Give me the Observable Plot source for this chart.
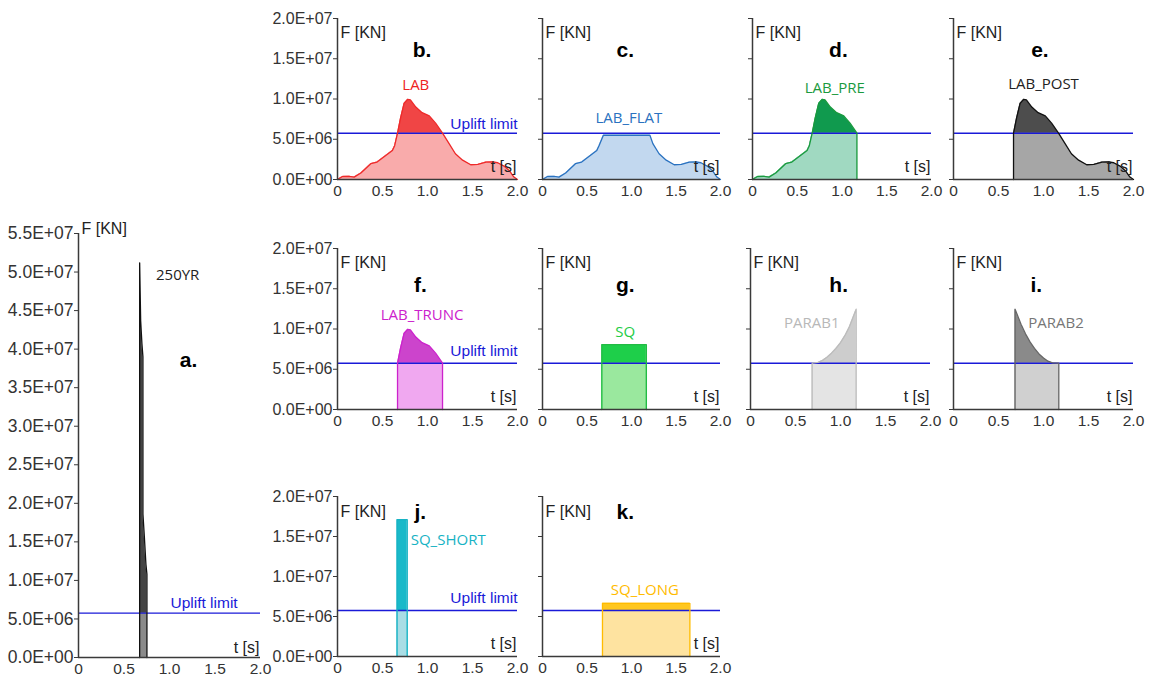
<!DOCTYPE html>
<html><head><meta charset="utf-8">
<script src="https://cdn.jsdelivr.net/npm/d3@7"></script>
<script src="https://cdn.jsdelivr.net/npm/@observablehq/plot@0.6"></script>
<style>
body{margin:0;background:#fff;}
#wrap{position:relative;width:1149px;height:679px;overflow:hidden;background:#fff;}
#wrap > div{position:absolute;}
svg{overflow:visible;}
</style></head><body><div id="wrap"></div>
<script>
// Values in E+06 kN (multiplied by UNIT when plotted), time in s
const UNIT = 1e6;
const UPLIFT = 5.75;
const xTicks = [0, 0.5, 1.0, 1.5, 2.0];
const xTickLabels = ["0", "0.5", "1.0", "1.5", "2.0"];
const yTicksSmall = [0, 5, 10, 15, 20];
const yTicksBig = [0, 5, 10, 15, 20, 25, 30, 35, 40, 45, 50, 55];

const yr250_t = [0.672, 0.672, 0.683, 0.697, 0.708, 0.708, 0.723, 0.741, 0.752, 0.752];
const yr250_v = [0, 51.2, 43.7, 40.7, 39.0, 18.6, 15.8, 12.1, 10.8, 0];

const lab_t = [0, 0.056, 0.13, 0.185, 0.26, 0.37, 0.44, 0.54, 0.61, 0.635, 0.667, 0.70, 0.74, 0.78, 0.81, 0.87, 0.94, 1.02, 1.09, 1.167, 1.24, 1.31, 1.39, 1.48, 1.56, 1.65, 1.72, 1.78, 1.85, 1.91, 1.96, 2.0];
const lab_v = [0, 0.37, 0.4, 0.3, 0.8, 1.96, 2.17, 3.0, 3.6, 4.2, 5.75, 7.6, 9.46, 9.96, 9.9, 9.0, 8.3, 7.9, 7.0, 5.75, 4.46, 3.2, 2.4, 1.83, 1.87, 2.17, 2.2, 2.08, 1.67, 1.1, 0.3, 0];

const flat_t = [0, 0.056, 0.13, 0.185, 0.26, 0.37, 0.44, 0.54, 0.61, 0.635, 0.684, 1.207, 1.24, 1.31, 1.39, 1.48, 1.56, 1.65, 1.72, 1.78, 1.85, 1.91, 1.96, 2.0];
const flat_v = [0, 0.37, 0.4, 0.3, 0.8, 1.96, 2.17, 3.0, 3.6, 4.2, 5.5, 5.5, 4.46, 3.2, 2.4, 1.83, 1.87, 2.17, 2.2, 2.08, 1.67, 1.1, 0.3, 0];

const pre_t = [0, 0.056, 0.13, 0.185, 0.26, 0.37, 0.44, 0.54, 0.61, 0.635, 0.667, 0.70, 0.74, 0.78, 0.81, 0.87, 0.94, 1.02, 1.09, 1.167, 1.167];
const pre_v = [0, 0.37, 0.4, 0.3, 0.8, 1.96, 2.17, 3.0, 3.6, 4.2, 5.75, 7.6, 9.46, 9.96, 9.9, 9.0, 8.3, 7.9, 7.0, 5.75, 0];

const post_t = [0.667, 0.667, 0.70, 0.74, 0.78, 0.81, 0.87, 0.94, 1.02, 1.09, 1.167, 1.24, 1.31, 1.39, 1.48, 1.56, 1.65, 1.72, 1.78, 1.85, 1.91, 1.96, 2.0];
const post_v = [0, 5.75, 7.6, 9.46, 9.96, 9.9, 9.0, 8.3, 7.9, 7.0, 5.75, 4.46, 3.2, 2.4, 1.83, 1.87, 2.17, 2.2, 2.08, 1.67, 1.1, 0.3, 0];

const trunc_t = [0.667, 0.667, 0.70, 0.74, 0.78, 0.81, 0.87, 0.94, 1.02, 1.09, 1.167, 1.167];
const trunc_v = [0, 5.75, 7.6, 9.46, 9.96, 9.9, 9.0, 8.3, 7.9, 7.0, 5.75, 0];

const sq_t = [0.667, 0.667, 1.167, 1.167];
const sq_v = [0, 8.05, 8.05, 0];

const parab1_t = [0.685, 0.685, 0.75, 0.8, 0.85, 0.9, 0.95, 1.0, 1.05, 1.1, 1.174, 1.174];
const parab1_v = [0, 5.75, 5.85, 6.1, 6.5, 7.0, 7.6, 8.3, 9.2, 10.3, 12.46, 0];

const parab2_t = [0.684, 0.684, 0.75, 0.8, 0.85, 0.9, 0.95, 1.0, 1.05, 1.1, 1.17, 1.17];
const parab2_v = [0, 12.46, 10.6, 9.4, 8.4, 7.6, 6.9, 6.4, 6.0, 5.8, 5.75, 0];

const short_t = [0.662, 0.662, 0.775, 0.775];
const short_v = [0, 17.1, 17.1, 0];

const long_t = [0.674, 0.674, 1.656, 1.656];
const long_v = [0, 6.65, 6.65, 0];

const panels = [
  {frame:[78,233,260,657], ymax:55, yTicks:yTicksBig, yLabels:true, yFont:17.5, t:yr250_t, v:yr250_v,
   stroke:"#111", upper:"#444", lower:"#8a8a8a", name:"250YR", nameColor:"#222", namePos:[1.09,49.6],
   letter:"a.", letterPos:[1.21,38.5], uplift:[1.38,7.1,"middle"], fTop:-11, tDy:-5},
  {frame:[337,18,517,179], ymax:20, yTicks:yTicksSmall, yLabels:true, yFont:16, t:lab_t, v:lab_v,
   stroke:"#ee2a2a", upper:"#f04545", lower:"#f9abab", name:"LAB", nameColor:"#ee2222", namePos:[0.87,11.7],
   letter:"b.", letterPos:[0.94,16.0], uplift:[2.0,6.95,"end"], fTop:8, tDy:-8},
  {frame:[542,18,720,179], ymax:20, yTicks:yTicksSmall, yLabels:false, t:flat_t, v:flat_v,
   stroke:"#2a72c0", upper:"#c2d8ef", lower:"#c2d8ef", name:"LAB_FLAT", nameColor:"#2a72c0", namePos:[0.97,7.6],
   letter:"c.", letterPos:[0.93,16.0], fTop:8, tDy:-8},
  {frame:[752,18,931,179], ymax:20, yTicks:yTicksSmall, yLabels:false, t:pre_t, v:pre_v,
   stroke:"#1a9a3e", upper:"#109a4e", lower:"#a0d9c1", name:"LAB_PRE", nameColor:"#1a9a3e", namePos:[0.92,11.4],
   letter:"d.", letterPos:[0.96,16.0], fTop:8, tDy:-8},
  {frame:[953,18,1133,179], ymax:20, yTicks:yTicksSmall, yLabels:false, t:post_t, v:post_v,
   stroke:"#111", upper:"#4d4d4d", lower:"#a6a6a6", name:"LAB_POST", nameColor:"#222", namePos:[1.0,11.9],
   letter:"e.", letterPos:[0.96,16.0], fTop:8, tDy:-8},
  {frame:[337,248,517,409], ymax:20, yTicks:yTicksSmall, yLabels:true, yFont:16, t:trunc_t, v:trunc_v,
   stroke:"#cc22cc", upper:"#cc44cc", lower:"#f0a8f0", name:"LAB_TRUNC", nameColor:"#cc22cc", namePos:[0.94,11.7],
   letter:"f.", letterPos:[0.92,15.4], uplift:[2.0,7.3,"end"], fTop:8, tDy:-8},
  {frame:[542,248,720,409], ymax:20, yTicks:yTicksSmall, yLabels:false, t:sq_t, v:sq_v,
   stroke:"#22bb44", upper:"#1ecf4a", lower:"#9ae89e", name:"SQ", nameColor:"#22cc44", namePos:[0.93,9.6],
   letter:"g.", letterPos:[0.93,15.4], fTop:8, tDy:-8},
  {frame:[750,248,930,409], ymax:20, yTicks:yTicksSmall, yLabels:false, t:parab1_t, v:parab1_v,
   stroke:"#bcbcbc", upper:"#cdcdcd", lower:"#e4e4e4", name:"PARAB1", nameColor:"#b8b8b8", namePos:[0.68,10.7],
   letter:"h.", letterPos:[0.98,15.4], fTop:8, tDy:-8},
  {frame:[953,248,1133,409], ymax:20, yTicks:yTicksSmall, yLabels:false, t:parab2_t, v:parab2_v,
   stroke:"#666", upper:"#8a8a8a", lower:"#d0d0d0", name:"PARAB2", nameColor:"#777", namePos:[1.14,10.7],
   letter:"i.", letterPos:[0.92,15.4], fTop:8, tDy:-8},
  {frame:[337,496,517,656], ymax:20, yTicks:yTicksSmall, yLabels:true, yFont:16, t:short_t, v:short_v,
   stroke:"#17b3c4", upper:"#1ab9c9", lower:"#a9dde5", name:"SQ_SHORT", nameColor:"#17b3c4", namePos:[1.23,14.5],
   letter:"j.", letterPos:[0.92,18.0], uplift:[2.0,7.25,"end"], fTop:9, tDy:-8},
  {frame:[542,496,720,656], ymax:20, yTicks:yTicksSmall, yLabels:false, t:long_t, v:long_v,
   stroke:"#ffbb00", upper:"#ffc71f", lower:"#fee3a0", name:"SQ_LONG", nameColor:"#ffbb00", namePos:[1.15,8.25],
   letter:"k.", letterPos:[0.93,18.0], fTop:9, tDy:-8}
];

const BLUE = "#1a1ad8";
const AX = "#3a3a3a";
const sci = v => {
  if (v === 0) return "0.0E+00";
  const e = Math.floor(Math.log10(v) + 1e-9);
  const m = v / Math.pow(10, e);
  return m.toFixed(1) + "E+" + String(e).padStart(2, "0");
};
const wrap = document.getElementById("wrap");
const U = UPLIFT * UNIT;

for (const p of panels) {
  const [l, t, r, b] = p.frame;
  const mL = p.yLabels ? l : 12, mR = 16, mT = 14, mB = 24;
  const data = p.t.map((tt, i) => ({t: tt, v: p.v[i] * UNIT}));
  const marks = [
    Plot.areaY(data, {x: "t", y1: 0, y2: "v", fill: p.upper}),
    Plot.areaY(data, {x: "t", y1: 0, y2: d => Math.min(d.v, U), fill: p.lower}),
    Plot.ruleY([U], {stroke: BLUE, strokeWidth: 1.4}),
    Plot.line(data, {x: "t", y: "v", stroke: p.stroke, strokeWidth: 1.3}),
    Plot.axisX({ticks: xTicks, tickFormat: d => xTickLabels[xTicks.indexOf(d)], tickSize: 0, tickPadding: 5, fontSize: 15.5, fill: "#333", label: null}),
    Plot.axisY({ticks: p.yTicks.map(d => d * UNIT), tickFormat: p.yLabels ? sci : () => "", tickSize: 4, tickPadding: 1, fontSize: p.yFont || 15, fill: "#333", stroke: AX, label: null}),
    Plot.ruleX([0], {stroke: AX, strokeWidth: 1.5}),
    Plot.ruleY([0], {stroke: AX, strokeWidth: 1.5}),
    Plot.text(["F [KN]"], {frameAnchor: "top-left", dx: 3, dy: p.fTop, textAnchor: "start", fontSize: 16, fill: "#222"}),
    Plot.text(["t [s]"], {frameAnchor: "bottom-right", dx: -1, dy: p.tDy, textAnchor: "end", fontSize: 16, fill: "#222"}),
    Plot.text([{x: p.letterPos[0], y: p.letterPos[1] * UNIT, s: p.letter}], {x: "x", y: "y", text: "s", fontSize: 21, fontWeight: "bold", fill: "#000"}),
    Plot.text([{x: p.namePos[0], y: p.namePos[1] * UNIT, s: p.name}], {x: "x", y: "y", text: "s", fontSize: 15, fontFamily: "'Open Sans', sans-serif", fill: p.nameColor})
  ];
  if (p.uplift) {
    marks.push(Plot.text([{x: p.uplift[0], y: p.uplift[1] * UNIT, s: "Uplift limit"}], {x: "x", y: "y", text: "s", textAnchor: p.uplift[2], fontSize: 15.5, fill: BLUE}));
  }
  const svg = Plot.plot({
    width: (r - l) + mL + mR,
    height: (b - t) + mT + mB,
    marginLeft: mL, marginRight: mR, marginTop: mT, marginBottom: mB,
    x: {domain: [0, 2]},
    y: {domain: [0, p.ymax * UNIT]},
    style: {background: "transparent", fontFamily: "'Liberation Sans', Arial, sans-serif", fontSize: "15px", color: "#333", overflow: "visible"},
    marks
  });
  const div = document.createElement("div");
  div.style.left = (l - mL) + "px";
  div.style.top = (t - mT) + "px";
  div.appendChild(svg);
  wrap.appendChild(div);
}
</script>
</body></html>
